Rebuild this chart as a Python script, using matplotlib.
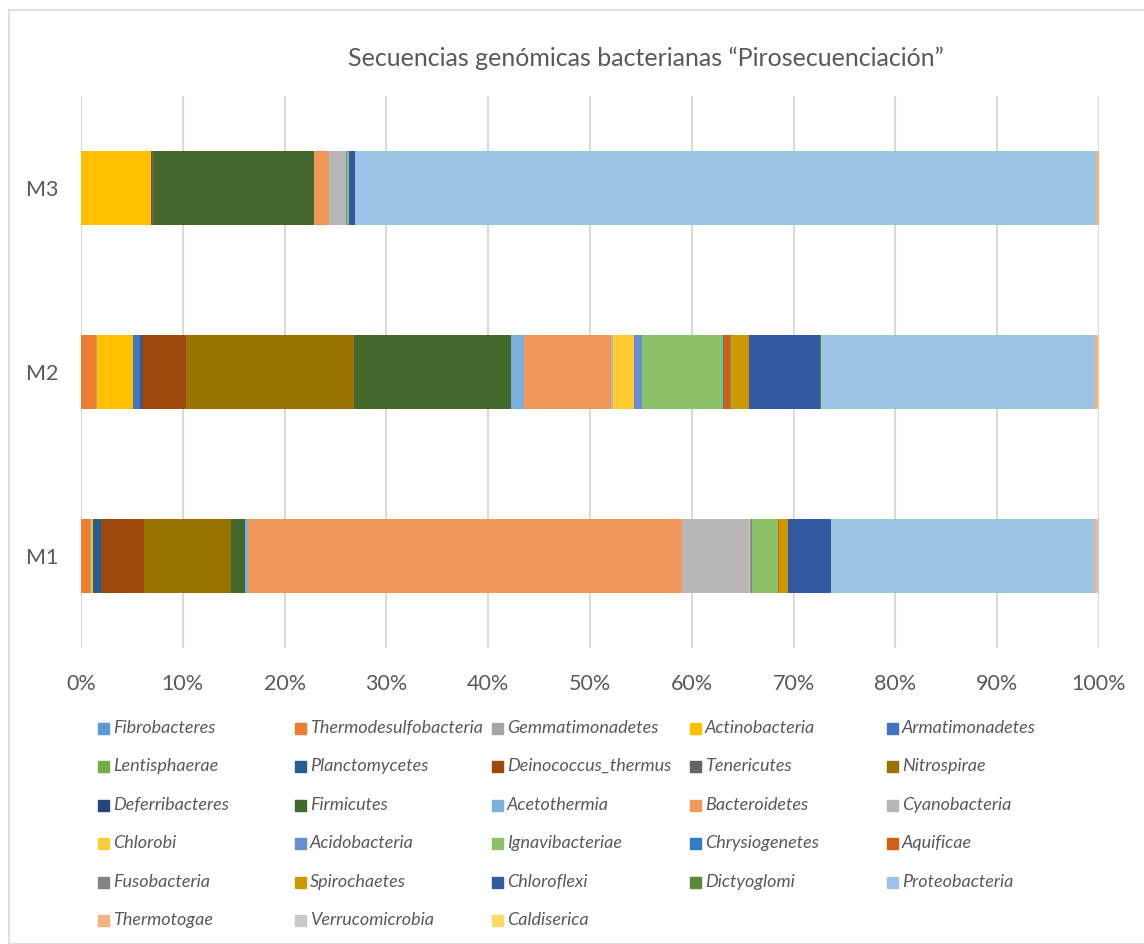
import numpy as np
import matplotlib
matplotlib.use("Agg")
import matplotlib.pyplot as plt
from matplotlib.patches import Rectangle

plt.rcParams['font.family'] = ['Lato', 'DejaVu Sans']

samples = ['M1', 'M2', 'M3']

phyla = ['Fibrobacteres', 'Thermodesulfobacteria', 'Gemmatimonadetes', 'Actinobacteria',
         'Armatimonadetes', 'Lentisphaerae', 'Planctomycetes', 'Deinococcus_thermus',
         'Tenericutes', 'Nitrospirae', 'Deferribacteres', 'Firmicutes', 'Acetothermia',
         'Bacteroidetes', 'Cyanobacteria', 'Chlorobi', 'Acidobacteria', 'Ignavibacteriae',
         'Chrysiogenetes', 'Aquificae', 'Fusobacteria', 'Spirochaetes', 'Chloroflexi',
         'Dictyoglomi', 'Proteobacteria', 'Thermotogae', 'Verrucomicrobia', 'Caldiserica']

# percentage per phylum, same order as phyla
m1 = [0, 0.9, 0.05, 0.2, 0.07, 0, 0.75, 4.2, 0, 8.6, 0, 1.4, 0.27, 42.7, 6.55, 0.1, 0.2,
      2.6, 0, 0.05, 0, 0.9, 4.2, 0, 25.9, 0.2, 0.3, 0]
m2 = [0, 1.5, 0.07, 3.5, 0.7, 0, 0.25, 4.3, 0.05, 16.5, 0, 15.4, 1.25, 8.6, 0.2, 2.1, 0.75,
      8.0, 0.1, 0.55, 0.15, 1.7, 7.0, 0.15, 26.9, 0.3, 0.05, 0.05]
m3 = [0, 0.02, 0, 6.85, 0, 0, 0, 0.15, 0.15, 0, 0, 15.7, 0, 1.5, 1.7, 0, 0.05,
      0.2, 0, 0, 0, 0.05, 0.55, 0, 72.8, 0.3, 0, 0]

colors = ['#5B9BD5', '#ED7D31', '#A5A5A5', '#FFC000', '#4472C4', '#70AD47', '#255E91',
          '#9E480E', '#636363', '#997300', '#264478', '#43682B', '#7CAFDD', '#F1975A',
          '#B7B7B7', '#FFCD33', '#698ED0', '#8CC168', '#327DC2', '#D26012', '#848484',
          '#CC9A00', '#335AA1', '#5A8A39', '#9DC3E6', '#F4B183', '#C9C9C9', '#FFD966']

txt = '#595959'

data = np.array([m1, m2, m3], dtype=float).T  # phyla x samples
data = data / data.sum(axis=0) * 100

W, H = 1144, 944
fig = plt.figure(figsize=(W / 100, H / 100), dpi=100)
fig.patches.append(Rectangle((9 / W, 0), 1, 1 - 10 / H, transform=fig.transFigure,
                             fill=False, edgecolor='#D9D9D9', lw=1.2))

ax = fig.add_axes([81 / W, 1 - 648 / H, (1099 - 81) / W, (648 - 96) / H])
y = np.arange(len(samples))
left = np.zeros(len(samples))
for i, name in enumerate(phyla):
    ax.barh(y, data[i], left=left, height=0.4, color=colors[i], label=name, zorder=3)
    left += data[i]

ax.set_xlim(0, 100)
ax.set_ylim(-0.5, 2.5)
ax.set_xticks(np.arange(0, 101, 10))
ax.set_xticklabels([f'{v}%' for v in range(0, 101, 10)])
ax.set_yticks(y)
ax.set_yticklabels(samples)
ax.tick_params(length=0, labelsize=15.5, labelcolor=txt)
ax.tick_params(axis='x', pad=19)
ax.tick_params(axis='y', pad=16)
ax.grid(axis='x', color='#D9D9D9', lw=1.5, zorder=0)
for s in ax.spines.values():
    s.set_visible(False)

fig.text(646 / W, 1 - 58 / H, 'Secuencias genómicas bacterianas “Pirosecuenciación”',
         ha='center', va='center', fontsize=18, color=txt)

# legend, filled row by row like the original
col_x = [98, 295, 492, 690, 887]
row_y = [728, 766, 805, 843, 882, 920]
for i, name in enumerate(phyla):
    r, c = divmod(i, 5)
    x0, y0 = col_x[c], row_y[r]
    fig.patches.append(Rectangle((x0 / W, 1 - (y0 + 5.5) / H), 11 / W, 11 / H,
                                 transform=fig.transFigure, color=colors[i]))
    fig.text((x0 + 15) / W, 1 - y0 / H, name, ha='left', va='center', fontsize=13,
             style='italic', color=txt)

fig.savefig('out.png', dpi=100)
